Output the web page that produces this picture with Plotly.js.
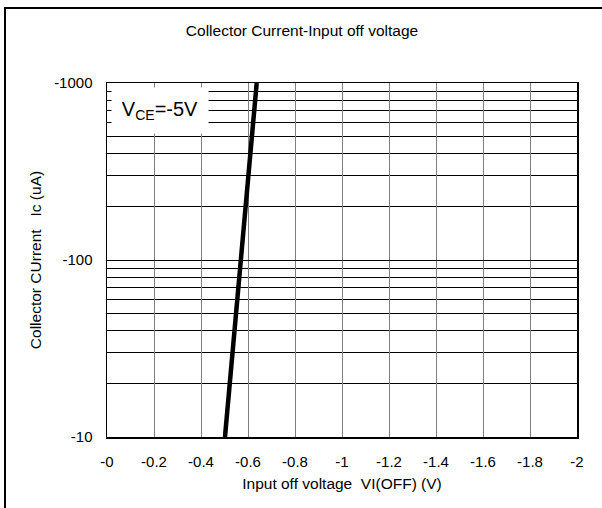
<!DOCTYPE html>
<html>
<head>
<meta charset="utf-8">
<script src="https://cdn.plot.ly/plotly-3.0.1.min.js"></script>
<style>
  html, body { margin: 0; padding: 0; background: #fff; }
  #wrap { position: relative; width: 602px; height: 508px; overflow: hidden; }
  #chart { position: absolute; left: 0; top: 0; width: 602px; height: 508px; }
  #frame { position: absolute; left: 4px; top: 7px; width: 700px; height: 600px;
           border-left: 2px solid #000; border-top: 2px solid #000; pointer-events: none; }
</style>
</head>
<body>
<div id="wrap">
  <div id="chart"></div>
  <div id="frame"></div>
</div>
<script>
// Data
const voltage = [0.502, 0.637];          // input off voltage magnitude (V)
const current = [10, 1000];              // collector current magnitude (uA)

const xTickVals = [0, 0.2, 0.4, 0.6, 0.8, 1.0, 1.2, 1.4, 1.6, 1.8, 2.0];
const xTickText = ['-0', '-0.2', '-0.4', '-0.6', '-0.8', '-1', '-1.2', '-1.4', '-1.6', '-1.8', '-2'];

const yTickVals = [10, 100, 1000];
const yTickText = ['-10', '-100', '-1000'];
const yMinorVals = [20, 30, 40, 50, 60, 70, 80, 90,
                    200, 300, 400, 500, 600, 700, 800, 900];

const font = 'Liberation Sans, Arial, sans-serif';

const trace = {
  x: voltage,
  y: current,
  mode: 'lines',
  line: {color: '#000', width: 4.5},
  showlegend: false,
  hoverinfo: 'skip'
};

const layout = {
  width: 602,
  height: 508,
  margin: {l: 107, r: 25, t: 83, b: 71},
  paper_bgcolor: '#fff',
  plot_bgcolor: '#fff',
  font: {family: font, size: 15, color: '#000'},
  title: {
    text: 'Collector Current-Input off voltage',
    font: {family: font, size: 15.5, color: '#000'},
    x: 302 / 602, xref: 'container', xanchor: 'center',
    y: 1 - 31 / 508, yref: 'container', yanchor: 'middle'
  },
  xaxis: {
    range: [0, 2],
    tickmode: 'array',
    tickvals: xTickVals,
    ticktext: xTickText,
    showgrid: true,
    gridcolor: '#7f7f7f',
    gridwidth: 1,
    zeroline: false,
    showline: true,
    linecolor: '#000',
    linewidth: 1.5,
    mirror: true,
    ticks: '',
    ticklabelstandoff: 10,
    tickfont: {family: font, size: 15, color: '#000'},
    title: {text: 'Input off voltage&nbsp;&nbsp;VI(OFF) (V)', font: {family: font, size: 15.5, color: '#000'}, standoff: 9}
  },
  yaxis: {
    type: 'log',
    range: [1, 3],
    tickmode: 'array',
    tickvals: yTickVals,
    ticktext: yTickText,
    showgrid: true,
    gridcolor: '#000',
    gridwidth: 1,
    minor: {
      tickmode: 'array',
      tickvals: yMinorVals,
      showgrid: true,
      gridcolor: '#000',
      gridwidth: 1,
      ticks: ''
    },
    zeroline: false,
    showline: true,
    linecolor: '#000',
    linewidth: 1.5,
    mirror: true,
    ticks: '',
    ticklabelstandoff: 10,
    tickfont: {family: font, size: 15, color: '#000'},
    title: {text: 'Collector CUrrent&nbsp;&nbsp;&nbsp;Ic (uA)', font: {family: font, size: 15.5, color: '#000'}, standoff: 8}
  },
  annotations: [{
    text: 'V<sub>CE</sub>=-5V',
    xref: 'paper', yref: 'paper',
    x: (160 - 107) / 470, y: 1 - (110 - 83) / 354,
    xanchor: 'center', yanchor: 'middle',
    showarrow: false,
    bgcolor: '#fff',
    width: 94, height: 43,
    font: {family: font, size: 20, color: '#000'}
  }]
};

Plotly.newPlot('chart', [trace], layout, {staticPlot: true, displayModeBar: false});
</script>
</body>
</html>
